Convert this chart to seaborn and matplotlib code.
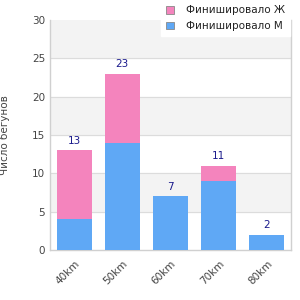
import matplotlib
matplotlib.use('Agg')
import matplotlib.pyplot as plt
from matplotlib.patches import Patch
import seaborn as sns
import pandas as pd

# data
distances = ['40km', '50km', '60km', '70km', '80km']
finished_m = [4, 14, 7, 9, 2]
finished_f = [9, 9, 0, 2, 0]
totals = [m + f for m, f in zip(finished_m, finished_f)]

pink = '#f484bd'
blue = '#5fa8f5'

df = pd.DataFrame({'dist': distances, 'm': finished_m, 'total': totals})

sns.set_style('white')
plt.rcParams['font.family'] = ['DejaVu Sans']

fig = plt.figure(figsize=(3, 3), dpi=100)
ax = fig.add_axes([0.167, 0.167, 0.803, 0.766])

# alternating bands + grid
for lo in [5, 15, 25]:
    ax.axhspan(lo, lo + 5, color='#f3f3f3', zorder=0)
for y in [5, 10, 15, 20, 25]:
    ax.axhline(y, color='#dcdcdc', lw=0.8, zorder=0.5)

sns.barplot(data=df, x='dist', y='total', color=pink, width=0.73,
            saturation=1, ax=ax, zorder=2, edgecolor='none', linewidth=0)
sns.barplot(data=df, x='dist', y='m', color=blue, width=0.73,
            saturation=1, ax=ax, zorder=3, edgecolor='none', linewidth=0)

for i, t in enumerate(totals):
    ax.text(i, t + 0.6, str(t), ha='center', va='bottom', fontsize=7.5,
            color='#1a1a8c', zorder=4)

ax.set_xlim(-0.5, 4.5)
ax.set_ylim(0, 30)
ax.set_yticks([0, 5, 10, 15, 20, 25, 30])
ax.set_xlabel('')
ax.set_ylabel('Число бегунов', fontsize=7.5, color='#444444', labelpad=16)
ax.tick_params(axis='both', labelsize=7.5, colors='#444444', length=0)
ax.tick_params(axis='x', pad=6)
plt.setp(ax.get_xticklabels(), rotation=45, ha='right', rotation_mode='anchor')

for side in ['left', 'right', 'bottom']:
    ax.spines[side].set_color('#d0d0d0')
    ax.spines[side].set_linewidth(1)
ax.spines['top'].set_visible(False)

handles = [Patch(facecolor=pink, edgecolor='#888888', lw=0.6, label='Финишировало Ж'),
           Patch(facecolor=blue, edgecolor='#888888', lw=0.6, label='Финишировало М')]
leg = fig.legend(handles=handles, loc='upper right', bbox_to_anchor=(0.978, 1.01),
                 fontsize=7.5, frameon=True, fancybox=False, framealpha=1,
                 edgecolor='white', handlelength=0.75, handleheight=0.75,
                 labelspacing=0.55, borderpad=0.5, borderaxespad=0.3,
                 handletextpad=1.2)
leg.set_zorder(10)
for t in leg.get_texts():
    t.set_color('#222222')

fig.savefig('out.png', dpi=100)
